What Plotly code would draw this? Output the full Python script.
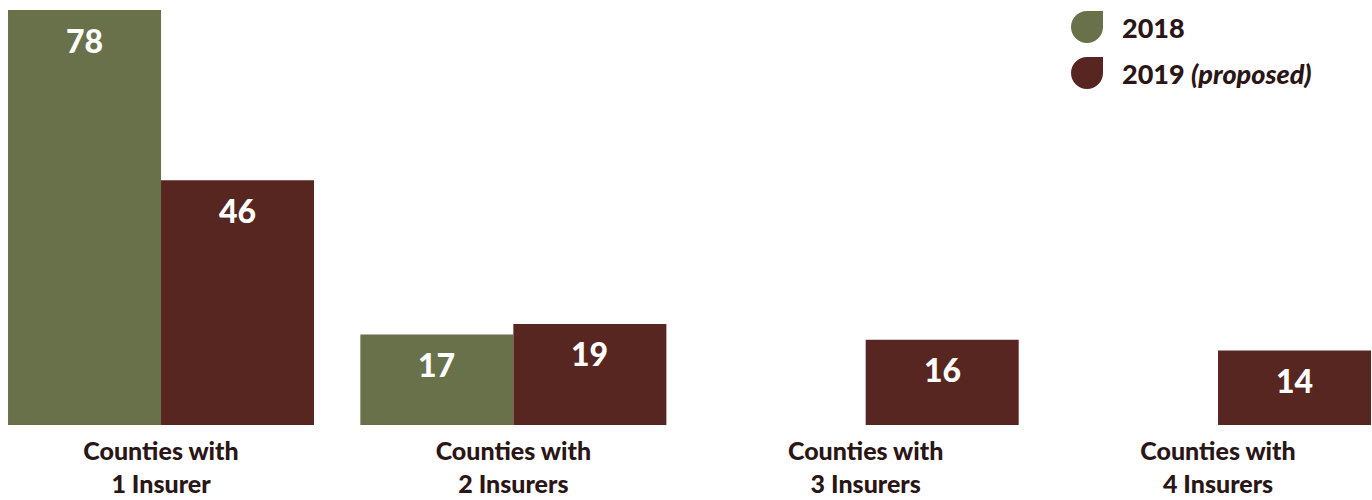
import plotly.graph_objects as go

categories = ["Counties with<br>1 Insurer", "Counties with<br>2 Insurers",
              "Counties with<br>3 Insurers", "Counties with<br>4 Insurers"]
values_2018 = [78, 17, None, None]
values_2019 = [46, 19, 16, 14]
series_names = ["2018", "2019 <i>(proposed)</i>"]

GREEN = "#69714B"
RED = "#582621"
TEXT = "#2A1517"
FONT = "Lato"

W, H = 1372, 500
M_T, M_B = 10, 75
BARGAP = 0.1315
XR = [-0.457, 3.437]

xs = list(range(len(categories)))

fig = go.Figure()
fig.add_trace(go.Bar(x=xs, y=values_2018, name=series_names[0], marker=dict(color=GREEN, line=dict(width=0))))
fig.add_trace(go.Bar(x=xs, y=values_2019, name=series_names[1], marker=dict(color=RED, line=dict(width=0))))

# value labels inside bars
half = (1 - BARGAP) / 4
annotations = []
for vals, off in [(values_2018, -half), (values_2019, half)]:
    for i, v in enumerate(vals):
        if v is None:
            continue
        annotations.append(dict(x=i + off, y=v, xref="x", yref="y", text=str(v),
                                showarrow=False, yanchor="middle", yshift=-30,
                                font=dict(family=FONT, size=32, color="white", weight=900)))

# custom legend (leaf-shaped markers)
plot_h = H - M_T - M_B
def py(pix):
    return (H - M_B - pix) / plot_h

k = 16 * 0.5523
leaf = (f"M 16,16 L 16,0 C 16,{-k} {k},-16 0,-16 C {-k},-16 -16,{-k} -16,0 "
        f"C -16,{k} {-k},16 0,16 Z")
shapes = []
for color, cy, label in [(GREEN, 27, series_names[0]), (RED, 73, series_names[1])]:
    shapes.append(dict(type="path", xref="paper", yref="paper", xsizemode="pixel", ysizemode="pixel",
                       xanchor=1087 / W, yanchor=py(cy), path=leaf, fillcolor=color, line=dict(width=0)))
    annotations.append(dict(x=1120 / W, y=py(cy), xref="paper", yref="paper", text=label,
                            showarrow=False, xanchor="left", yanchor="middle",
                            font=dict(family=FONT, size=27, color=TEXT, weight=900)))

fig.update_layout(
    width=W, height=H,
    margin=dict(l=0, r=0, t=M_T, b=M_B, pad=0, autoexpand=False),
    barmode="group", bargap=BARGAP, bargroupgap=0,
    plot_bgcolor="white", paper_bgcolor="white",
    showlegend=False,
    annotations=annotations, shapes=shapes,
    xaxis=dict(range=XR, tickvals=xs, ticktext=categories, automargin=False,
               tickfont=dict(family=FONT, size=25, color=TEXT, weight=900), showgrid=False, zeroline=False,
               showline=False, ticks="", ticklabelstandoff=9, fixedrange=True),
    yaxis=dict(range=[0, 78], visible=False, showgrid=False, zeroline=False, fixedrange=True,
               automargin=False),
)

fig.write_html("out.html")
